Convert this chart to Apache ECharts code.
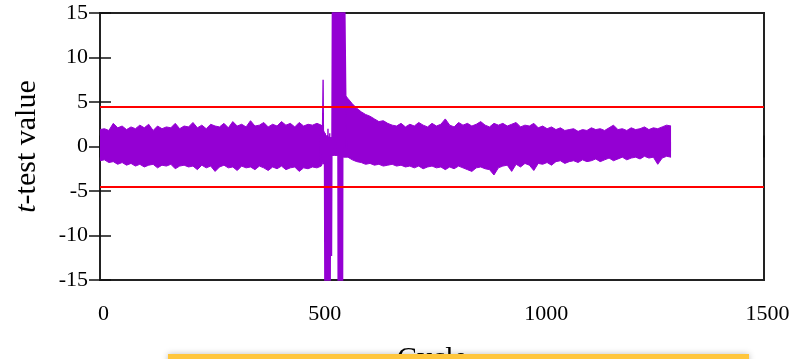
<!DOCTYPE html>
<html>
<head>
<meta charset="utf-8">
<script src="https://cdn.jsdelivr.net/npm/echarts@6/dist/echarts.min.js"></script>
<style>
	html, body { margin: 0; padding: 0; background: #fff; }
	#main { width: 794px; height: 359px; }
</style>
</head>
<body>
<div id="main"></div>
<script>
// axis ticks
var xTicks = [0, 500, 1000, 1500]
var yTicks = [-15, -10, -5, 0, 5, 10, 15]
var thresholds = [4.5, -4.5]

// envelope of the noisy trace, one sample every 10 cycles (0 .. 1290)
var sampleStep = 10
var bandUpper = [
	1.9, 2.0, 1.8, 2.6, 2.1, 2.3, 1.9, 2.2, 2.0, 2.4,
	2.1, 2.5, 1.8, 2.3, 2.0, 2.2, 2.1, 2.6, 2.0, 2.3,
	2.2, 2.7, 2.1, 2.4, 2.0, 2.5, 2.3, 2.2, 2.6, 2.1,
	2.8, 2.3, 2.5, 2.2, 2.9, 2.3, 2.4, 2.7, 2.2, 2.5,
	2.3, 2.8, 2.4, 2.6, 2.2, 2.7, 2.3, 2.5, 2.4, 2.6,
	2.4, 1.2, 1.0, 1.0, 1.0, 6.0,
	5.4, 4.8, 4.3, 3.9, 3.6, 3.4, 3.1, 2.8, 2.9, 2.6,
	2.4, 2.3, 2.6, 2.2, 2.5, 2.3, 2.7, 2.4, 2.2, 2.6,
	2.3, 2.5, 3.1, 2.4, 2.2, 2.7, 2.4, 2.6, 2.3, 2.5,
	2.8, 2.4, 2.2, 2.6, 2.4, 2.6, 2.3, 2.5, 2.7, 2.2,
	2.4, 2.3, 2.6, 2.1, 2.3, 2.0, 2.2, 1.9, 2.1, 1.8,
	1.9, 2.0, 1.7, 1.9, 1.8, 2.1, 1.9, 2.0, 1.8, 2.1,
	2.4, 1.9, 2.0, 1.8, 2.1, 1.9, 2.0, 2.2, 1.9, 2.1,
	2.0, 2.2, 2.4, 2.3
]
var bandLower = [
	-1.6, -1.5, -1.8, -1.7, -2.0, -1.8, -2.1, -1.9, -2.2, -2.0,
	-2.3, -2.1, -2.0, -2.4, -2.1, -2.2, -2.0, -2.5, -2.2, -2.1,
	-2.3, -2.2, -2.6, -2.1, -2.4, -2.2, -2.8, -2.3, -2.1, -2.4,
	-2.3, -2.7, -2.2, -2.4, -2.3, -2.6, -2.2, -2.4, -2.7, -2.3,
	-2.5, -2.2, -2.6, -2.4, -2.3, -2.8, -2.4, -2.5, -2.3, -2.4,
	-2.2, -1.0, -1.0, -1.0, -1.0, -1.2,
	-1.2, -1.5, -1.7, -1.8, -2.0, -1.9, -2.1, -2.0, -2.2, -2.1,
	-2.0, -2.2, -2.1, -2.3, -2.2, -2.4, -2.2, -2.5, -2.3, -2.2,
	-2.4, -2.3, -2.6, -2.3, -2.5, -2.2, -2.4, -2.6, -2.8, -2.4,
	-2.3, -2.5, -2.6, -3.2, -2.4, -2.2, -2.1, -2.8, -2.0, -2.3,
	-1.9, -2.1, -2.7, -1.9, -2.0, -1.8, -2.1, -1.7, -1.6, -1.9,
	-1.7, -1.6, -1.8, -1.5, -1.7, -1.6, -1.4, -1.7, -1.5, -1.3,
	-1.6, -1.4, -1.2, -1.5, -1.3, -1.2, -1.4, -1.1, -1.3, -1.2,
	-2.0, -1.3, -1.1, -1.2
]

// the leakage burst around cycle 500 (values past +-15 run off the plot)
var burstCycles = [
	496, 498, 500, 502, 504, 505, 507, 508, 509, 510, 511,
	512, 513, 514, 515, 516, 517, 518, 519, 520, 521, 522, 523, 525, 526,
	527, 528, 529, 530, 531, 532, 533, 534, 535, 536, 537, 538, 539, 540, 541,
	542, 543, 544, 545, 546, 547, 548, 549, 550, 551, 552, 553, 555, 557
]
var burstValues = [
	2.2, -1.8, 2.4, -1.5, 7.5, -2.0, 1.2, -16, 1.5, -16, 1.0,
	-16, 1.3, -16, 2.0, -16, 0.8, -16, 1.5, -16, 1.0, 0.5, -12.3, 16, -1.0,
	16, 0.0, 16, -0.5, 16, -1.0, 16, 0.5, 16, -0.8, 16, -16, 16, -16, 16,
	-16, 16, -16, 16, -16, 16, -16, 16, 0.0, 16, -0.5, 16, 6.5, -1.0
]

var purple = '#9400d3'
var serif = '"Liberation Serif", "Times New Roman", serif'

function pairUp(xs, ys) {
	var out = []
	for (var i = 0; i < ys.length; i++) {
		out.push([xs[i], ys[i]])
	}
	return out
}

function sampled(values) {
	var out = []
	for (var i = 0; i < values.length; i++) {
		out.push([i * sampleStep, values[i]])
	}
	return out
}

function drawTTestChart(chartDom) {
	var myChart = echarts.init(chartDom)
	var tickStyle = { inside: true, length: 11, lineStyle: { color: '#111', width: 1.5 } }
	var labelStyle = {
		color: '#000',
		fontFamily: serif,
		fontSize: 22,
		formatter: function (v) {
			return String(v)
		},
	}

	var option = {
		animation: false,
		grid: {
			left: 100,
			right: 30,
			top: 13,
			bottom: 79,
			outerBoundsMode: 'none',
			containLabel: false,
			show: true,
			borderColor: '#222',
			borderWidth: 2,
		},
		xAxis: [
			{
				type: 'value',
				min: xTicks[0],
				max: xTicks[xTicks.length - 1],
				interval: 500,
				name: 'Cycle',
				nameLocation: 'middle',
				nameGap: 64,
				nameTextStyle: { color: '#000', fontFamily: serif, fontSize: 30 },
				axisLine: { show: false },
				axisTick: tickStyle,
				axisLabel: Object.assign({ margin: 23, padding: [0, 0, 0, 7] }, labelStyle),
				splitLine: { show: false },
			},
			{
				type: 'value',
				position: 'top',
				min: xTicks[0],
				max: xTicks[xTicks.length - 1],
				interval: 500,
				axisLine: { show: false },
				axisTick: tickStyle,
				axisLabel: { show: false },
				splitLine: { show: false },
			},
		],
		yAxis: [
			{
				type: 'value',
				min: yTicks[0],
				max: yTicks[yTicks.length - 1],
				interval: 5,
				name: '{i|t}-test value',
				nameLocation: 'middle',
				nameRotate: 90,
				nameGap: 58,
				nameTextStyle: {
					color: '#000',
					fontFamily: serif,
					fontSize: 30,
					rich: {
						i: { fontStyle: 'italic', fontFamily: serif, fontSize: 30, color: '#000' },
					},
				},
				axisLine: { show: false },
				axisTick: tickStyle,
				axisLabel: Object.assign({ margin: 12 }, labelStyle),
				splitLine: { show: false },
			},
			{
				type: 'value',
				position: 'right',
				min: yTicks[0],
				max: yTicks[yTicks.length - 1],
				interval: 5,
				axisLine: { show: false },
				axisTick: tickStyle,
				axisLabel: { show: false },
				splitLine: { show: false },
			},
		],
		series: [
			{
				name: 'upper',
				type: 'line',
				data: sampled(bandUpper),
				symbol: 'none',
				lineStyle: { color: purple, width: 1 },
				areaStyle: { color: purple, opacity: 1, origin: -0.5 },
				z: 2,
			},
			{
				name: 'lower',
				type: 'line',
				data: sampled(bandLower),
				symbol: 'none',
				lineStyle: { color: purple, width: 1 },
				areaStyle: { color: purple, opacity: 1, origin: 0.5 },
				z: 2,
			},
			{
				name: 'burst',
				type: 'line',
				data: pairUp(burstCycles, burstValues),
				symbol: 'none',
				clip: true,
				lineStyle: { color: purple, width: 1.4 },
				z: 3,
			},
			{
				name: 'threshold',
				type: 'line',
				data: [],
				markLine: {
					silent: true,
					symbol: 'none',
					label: { show: false },
					lineStyle: { color: '#ff0000', width: 1.8, type: 'solid' },
					data: thresholds.map(function (t) {
						return { yAxis: t }
					}),
				},
				z: 4,
			},
		],
		graphic: [
			{
				type: 'rect',
				left: 168,
				top: 354,
				shape: { width: 581, height: 12 },
				style: {
					fill: '#ffc63d',
					shadowBlur: 6,
					shadowColor: 'rgba(0,0,0,0.25)',
				},
				z: 100,
			},
		],
	}

	option && myChart.setOption(option)
}

drawTTestChart(document.getElementById('main'))
</script>
</body>
</html>
